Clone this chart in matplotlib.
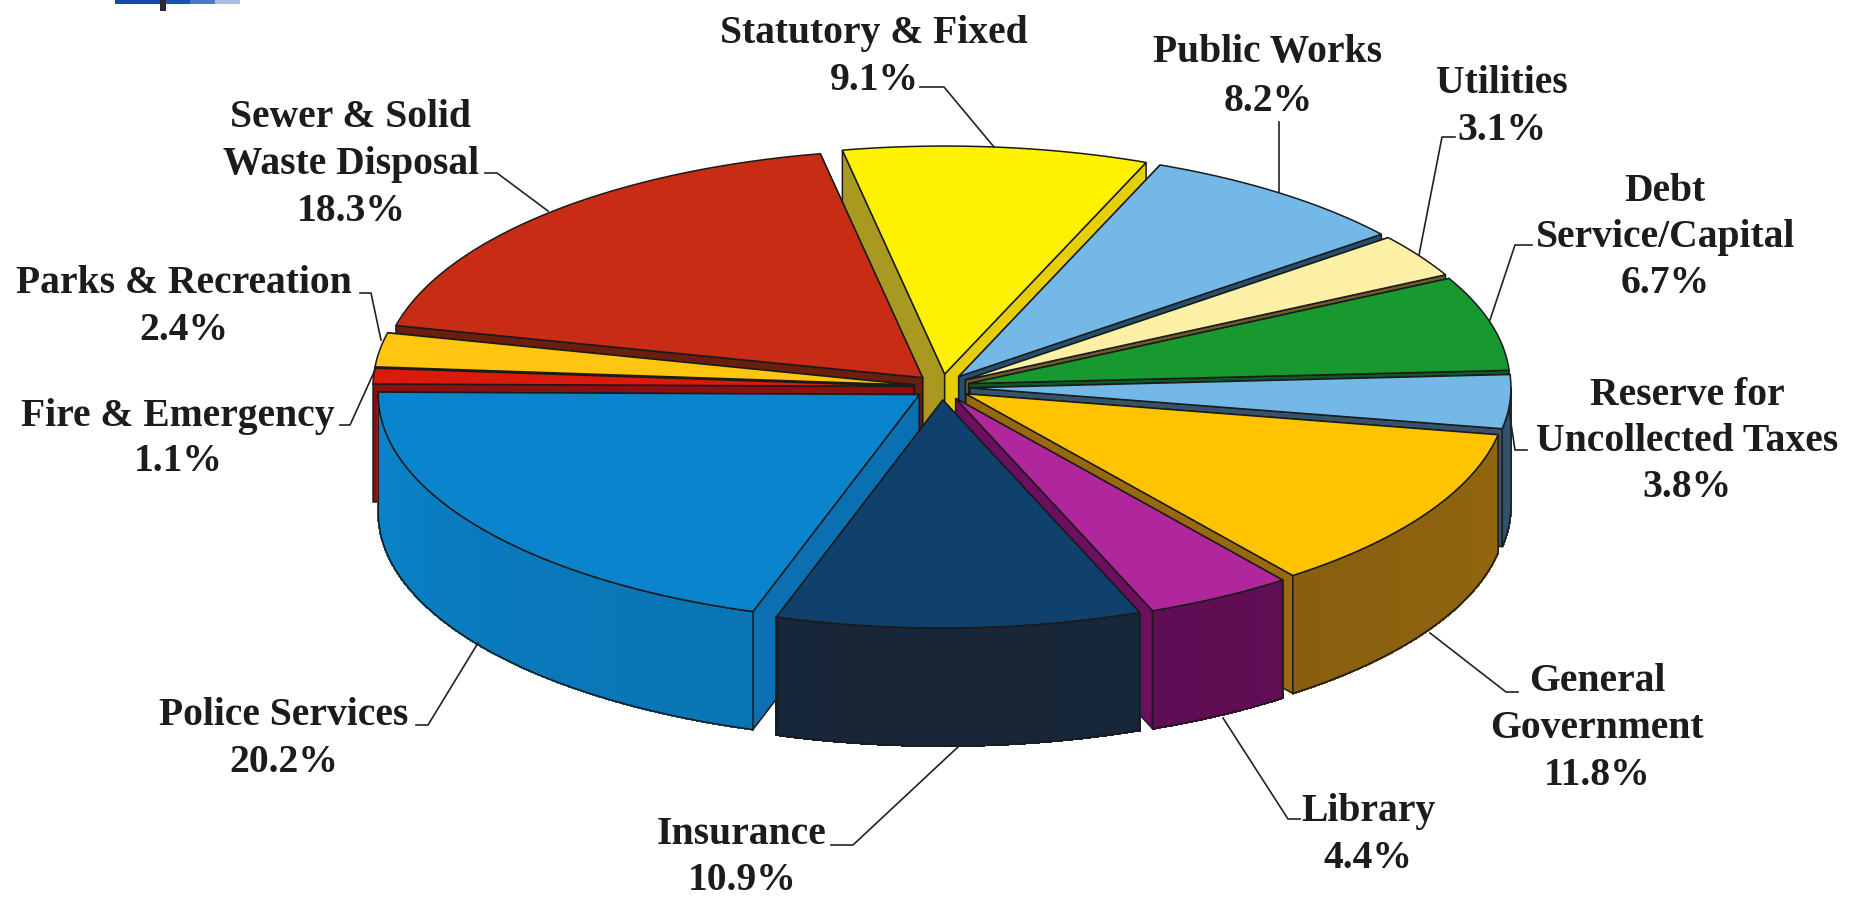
import numpy as np
import matplotlib
matplotlib.use('Agg')
import matplotlib.pyplot as plt
from matplotlib.colors import to_rgb
from matplotlib.patches import Polygon, Rectangle

names = ['Statutory & Fixed', 'Public Works', 'Utilities', 'Debt\nService/Capital',
         'Reserve for\nUncollected Taxes', 'General\nGovernment', 'Library', 'Insurance',
         'Police Services', 'Fire & Emergency', 'Parks & Recreation',
         'Sewer & Solid\nWaste Disposal']
shares = [9.1, 8.2, 3.1, 6.7, 3.8, 11.8, 4.4, 10.9, 20.2, 1.1, 2.4, 18.3]

top_colors = ['#fff200', '#74b8e8', '#fbf0a6', '#17992f', '#74b8e8', '#ffc300',
              '#b0269c', '#10406c', '#0a84cc', '#dc1a0c', '#ffc510', '#c92c14']
wall_colors = ['#e6cf08', '#24506f', '#6d5a2c', '#0f5a24', '#35536b', '#96690f',
               '#6b0f5e', '#1b2b40', '#0a84cc', '#8a1012', '#8a6a08', '#6a1e10']
# cut face on the first edge of a slice, where it differs from the wall
first_face = {0: '#a89a20', 8: '#0b70b2', 7: '#1b2b40'}

# pie geometry in pixels
cx, cy = 942, 387
rx, ry = 541, 228
ex, ey = 28, 13
depth = 118
start = 100.9

label_pos = [(874, 43, 47), (1268, 62, 49), (1502, 93, 47), (1665, 201, 46),
             (1687, 405, 46), (1597, 691, 47), (1368, 821, 47), (742, 844, 46),
             (284, 725, 47), (178, 426, 45), (184, 293, 47), (351, 127, 47)]

leaders = [[(920, 87), (944, 87), (994, 147)],
           [(1279, 122), (1279, 192)],
           [(1455, 137), (1442, 137), (1419, 255)],
           [(1532, 245), (1515, 245), (1490, 320)],
           [(1509, 410), (1515, 450), (1527, 450)],
           [(1430, 633), (1506, 692), (1518, 692)],
           [(1223, 718), (1288, 819), (1300, 819)],
           [(959, 746), (853, 845), (831, 845)],
           [(478, 643), (428, 725), (416, 725)],
           [(375, 370), (350, 425), (340, 425)],
           [(360, 293), (371, 293), (381, 340)],
           [(485, 173), (497, 173), (548, 211)]]

plt.rcParams['font.family'] = ['Liberation Serif', 'DejaVu Sans']

fig = plt.figure(figsize=(18.62, 8.98), dpi=100)
ax = fig.add_axes([0, 0, 1, 1])
ax.set_xlim(0, 1862)
ax.set_ylim(898, 0)
ax.axis('off')

edge = '#1a1a1a'
lw = 1.1


def outer(ox, oy, angles):
    a = np.radians(angles)
    return np.column_stack([ox + rx * np.cos(a), oy - ry * np.sin(a)])


def draw_face(ox, oy, angle, color, z):
    p = outer(ox, oy, [angle])[0]
    pts = [(ox, oy), p, (p[0], p[1] + depth), (ox, oy + depth)]
    ax.add_patch(Polygon(pts, closed=True, fc=color, ec=edge, lw=lw, zorder=z))


def draw_wall(ox, oy, a0, a1, color, z):
    # only the front part of the rim shows
    lo, hi = max(a1, -180), min(a0, 0)
    if lo >= hi:
        return
    angles = np.linspace(hi, lo, 60)
    rim = outer(ox, oy, angles)
    base = np.array(to_rgb(color))
    for i in range(len(rim) - 1):
        shade = 1.0 - 0.12 * np.abs(np.sin(np.radians(angles[i])))
        seg = [rim[i], rim[i + 1], rim[i + 1] + (0, depth), rim[i] + (0, depth)]
        ax.add_patch(Polygon(seg, closed=True, fc=base * shade, ec=base * shade,
                             lw=1.0, antialiased=False, zorder=z))
    shell = np.vstack([rim, (rim + (0, depth))[::-1]])
    ax.add_patch(Polygon(shell, closed=True, fc='none', ec=edge, lw=lw, zorder=z))


fracs = np.cumsum([0] + shares) * 3.6
order = sorted(range(len(shares)),
               key=lambda k: -np.sin(np.radians(start - (fracs[k] + fracs[k + 1]) / 2)))

for z, k in enumerate(order):
    a0 = start - fracs[k]
    a1 = start - fracs[k + 1]
    mid = np.radians((a0 + a1) / 2)
    ox = cx + ex * np.cos(mid)
    oy = cy - ey * np.sin(mid)
    # the face further back goes down first
    faces = [(a0, first_face.get(k, wall_colors[k])), (a1, wall_colors[k])]
    faces.sort(key=lambda f: -np.sin(np.radians(f[0])))
    for angle, color in faces:
        draw_face(ox, oy, angle, color, z)
    draw_wall(ox, oy, a0, a1, wall_colors[k], z)
    rim = outer(ox, oy, np.linspace(a0, a1, 80))
    ax.add_patch(Polygon(np.vstack([[(ox, oy)], rim]), closed=True,
                         fc=top_colors[k], ec=edge, lw=lw, zorder=z))

for name, share, (x, y, gap) in zip(names, shares, label_pos):
    lines = name.split('\n') + ['%.1f%%' % share]
    for i, line in enumerate(lines):
        ax.text(x, y + i * gap, line, ha='center', va='baseline', fontsize=28.5,
                fontweight='bold', color='#1c1c1c', zorder=50)

for path in leaders:
    xs, ys = zip(*path)
    ax.plot(xs, ys, color='#222222', lw=1.2, zorder=49)

# scrap of a logo cut off at the top of the scan
for x0, col in zip(range(115, 240, 25), ['#1747a8', '#1747a8', '#1f50b4', '#4f78cc', '#a9bde6']):
    ax.add_patch(Rectangle((x0, 0), 25, 3.5, fc=col, ec='none', zorder=1))
ax.add_patch(Rectangle((160, 0), 6, 11, fc='#2a2a33', ec='none', zorder=2))

fig.savefig('out.png', dpi=100, facecolor='white')
